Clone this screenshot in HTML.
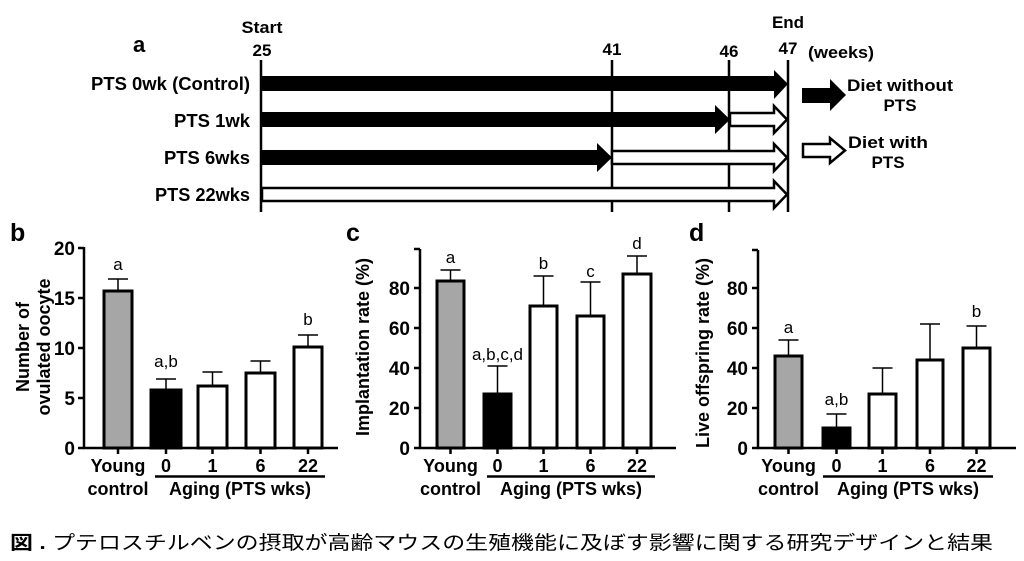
<!DOCTYPE html>
<html><head><meta charset="utf-8"><style>
html,body{margin:0;padding:0;background:#fff;}
svg{display:block;}
text{font-family:"Liberation Sans",Arial,sans-serif;fill:#000;}
.b{font-weight:bold;}
</style></head><body>
<svg width="1024" height="561" viewBox="0 0 1024 561" xmlns="http://www.w3.org/2000/svg">
<!-- Panel a -->
<text x="133" y="52" class="b" font-size="22">a</text>
<text x="262" y="33" class="b" font-size="17" text-anchor="middle" textLength="41" lengthAdjust="spacingAndGlyphs">Start</text>
<text x="262" y="56" class="b" font-size="17" text-anchor="middle">25</text>
<text x="612" y="55" class="b" font-size="17" text-anchor="middle">41</text>
<text x="729" y="57" class="b" font-size="17" text-anchor="middle">46</text>
<text x="788" y="28" class="b" font-size="17" text-anchor="middle">End</text>
<text x="788" y="54" class="b" font-size="17" text-anchor="middle">47</text>
<text x="808" y="58" class="b" font-size="17" textLength="66" lengthAdjust="spacingAndGlyphs">(weeks)</text>
<g class="b" font-size="18" text-anchor="end">
<text x="250" y="90" textLength="159" lengthAdjust="spacingAndGlyphs">PTS 0wk (Control)</text>
<text x="250" y="127" textLength="76" lengthAdjust="spacingAndGlyphs">PTS 1wk</text>
<text x="250" y="164" textLength="86" lengthAdjust="spacingAndGlyphs">PTS 6wks</text>
<text x="250" y="201" textLength="95" lengthAdjust="spacingAndGlyphs">PTS 22wks</text>
</g>
<g stroke="#000" stroke-width="2.5">
<line x1="261" y1="60" x2="261" y2="212"/>
<line x1="612" y1="60" x2="612" y2="212"/>
<line x1="729" y1="60" x2="729" y2="212"/>
<line x1="788" y1="60" x2="788" y2="212"/>
</g>
<polygon points="261,76 774,76 774,70 788,84 774,99 774,91 261,91" fill="#000"/>
<polygon points="261,112 715,112 715,105 730,119.5 715,134 715,127 261,127" fill="#000"/>
<polygon points="261,150 597,150 597,143 612,157.5 597,172 597,165 261,165" fill="#000"/>
<g fill="#fff" stroke="#000" stroke-width="2.5" stroke-linejoin="miter">
<polygon points="730,113 774,113 774,106 787,119.5 774,133 774,126 730,126"/>
<polygon points="612,151 774,151 774,144 787,157.5 774,171 774,164 612,164"/>
<polygon points="262,188 774,188 774,181 787,194.5 774,208 774,201 262,201"/>
</g>
<polygon points="802,88 830,88 830,79 846,95 830,111 830,103 802,103" fill="#000"/>
<polygon points="803,144 830,144 830,138 845,150.5 830,163 830,157 803,157" fill="#fff" stroke="#000" stroke-width="2.5"/>
<g class="b" font-size="17" text-anchor="middle">
<text x="900" y="91" textLength="106" lengthAdjust="spacingAndGlyphs">Diet without</text>
<text x="900" y="111">PTS</text>
<text x="888" y="148" textLength="80" lengthAdjust="spacingAndGlyphs">Diet with</text>
<text x="888" y="168">PTS</text>
</g>

<!-- Panel b -->
<text x="10" y="241" class="b" font-size="25">b</text>
<g stroke="#000" stroke-width="2.5" fill="none">
<line x1="84" y1="247" x2="84" y2="449"/>
<line x1="83" y1="448" x2="338" y2="448"/>
<line x1="78" y1="248" x2="84" y2="248"/>
<line x1="78" y1="298" x2="84" y2="298"/>
<line x1="78" y1="348" x2="84" y2="348"/>
<line x1="78" y1="398" x2="84" y2="398"/>
<line x1="78" y1="448" x2="84" y2="448"/>
<line x1="118" y1="448" x2="118" y2="454"/>
<line x1="166" y1="448" x2="166" y2="454"/>
<line x1="212.5" y1="448" x2="212.5" y2="454"/>
<line x1="260.5" y1="448" x2="260.5" y2="454"/>
<line x1="308" y1="448" x2="308" y2="454"/>
</g>
<g class="b" font-size="19" text-anchor="end">
<text x="75" y="255">20</text><text x="75" y="305">15</text><text x="75" y="355">10</text><text x="75" y="405">5</text><text x="75" y="455">0</text>
</g>
<g stroke="#000" stroke-width="1.5">
<line x1="118" y1="291" x2="118" y2="279"/><line x1="108" y1="279" x2="128" y2="279"/>
<line x1="166" y1="390" x2="166" y2="379"/><line x1="156" y1="379" x2="176" y2="379"/>
<line x1="212.5" y1="386" x2="212.5" y2="372"/><line x1="202.5" y1="372" x2="222.5" y2="372"/>
<line x1="260.5" y1="373" x2="260.5" y2="361"/><line x1="250.5" y1="361" x2="270.5" y2="361"/>
<line x1="308" y1="347" x2="308" y2="335"/><line x1="298" y1="335" x2="318" y2="335"/>
</g>
<g stroke="#000" stroke-width="3">
<rect x="104" y="291" width="28" height="157" fill="#a6a6a6"/>
<rect x="151" y="390" width="30" height="58" fill="#000"/>
<rect x="198" y="386" width="29" height="62" fill="#fff"/>
<rect x="246" y="373" width="29" height="75" fill="#fff"/>
<rect x="294" y="347" width="28" height="101" fill="#fff"/>
</g>
<g font-size="17" text-anchor="middle">
<text x="118" y="270">a</text><text x="166" y="367">a,b</text><text x="308" y="325">b</text>
</g>
<text transform="translate(29,347) rotate(-90)" class="b" font-size="18" text-anchor="middle">Number of</text>
<text transform="translate(50,347) rotate(-90)" class="b" font-size="18" text-anchor="middle">ovulated oocyte</text>
<g class="b" font-size="18" text-anchor="middle">
<text x="118" y="472">Young</text><text x="118" y="495">control</text>
<text x="166" y="472">0</text><text x="212.5" y="472">1</text><text x="260.5" y="472">6</text><text x="308" y="472">22</text>
<text x="240" y="495">Aging (PTS wks)</text>
</g>
<line x1="155" y1="476.5" x2="325" y2="476.5" stroke="#000" stroke-width="2.5"/>

<!-- Panel c -->
<text x="346" y="241" class="b" font-size="25">c</text>
<g stroke="#000" stroke-width="2.5" fill="none">
<line x1="420" y1="249" x2="420" y2="449"/>
<line x1="414" y1="249" x2="420" y2="249"/>
<line x1="419" y1="448" x2="676" y2="448"/>
<line x1="414" y1="288" x2="420" y2="288"/>
<line x1="414" y1="328" x2="420" y2="328"/>
<line x1="414" y1="368" x2="420" y2="368"/>
<line x1="414" y1="408" x2="420" y2="408"/>
<line x1="414" y1="448" x2="420" y2="448"/>
<line x1="450.5" y1="448" x2="450.5" y2="454"/>
<line x1="497.5" y1="448" x2="497.5" y2="454"/>
<line x1="543.5" y1="448" x2="543.5" y2="454"/>
<line x1="590.5" y1="448" x2="590.5" y2="454"/>
<line x1="637" y1="448" x2="637" y2="454"/>
</g>
<g class="b" font-size="19" text-anchor="end">
<text x="410" y="295">80</text><text x="410" y="335">60</text><text x="410" y="375">40</text><text x="410" y="415">20</text><text x="410" y="455">0</text>
</g>
<g stroke="#000" stroke-width="1.5">
<line x1="450.5" y1="281" x2="450.5" y2="270"/><line x1="440.5" y1="270" x2="460.5" y2="270"/>
<line x1="497.5" y1="394" x2="497.5" y2="366"/><line x1="487.5" y1="366" x2="507.5" y2="366"/>
<line x1="543.5" y1="306" x2="543.5" y2="276"/><line x1="533.5" y1="276" x2="553.5" y2="276"/>
<line x1="590.5" y1="316" x2="590.5" y2="282"/><line x1="580.5" y1="282" x2="600.5" y2="282"/>
<line x1="637" y1="274" x2="637" y2="256"/><line x1="627" y1="256" x2="647" y2="256"/>
</g>
<g stroke="#000" stroke-width="3">
<rect x="437" y="281" width="27" height="167" fill="#a6a6a6"/>
<rect x="484" y="394" width="27" height="54" fill="#000"/>
<rect x="530" y="306" width="27" height="142" fill="#fff"/>
<rect x="577" y="316" width="27" height="132" fill="#fff"/>
<rect x="623" y="274" width="28" height="174" fill="#fff"/>
</g>
<g font-size="17" text-anchor="middle">
<text x="450.5" y="263">a</text><text x="497.5" y="360">a,b,c,d</text><text x="543.5" y="269">b</text><text x="590.5" y="277">c</text><text x="637" y="249">d</text>
</g>
<text transform="translate(369,347) rotate(-90)" class="b" font-size="18" text-anchor="middle">Implantation rate (%)</text>
<g class="b" font-size="18" text-anchor="middle">
<text x="450.5" y="472">Young</text><text x="450.5" y="495">control</text>
<text x="497.5" y="472">0</text><text x="543.5" y="472">1</text><text x="590.5" y="472">6</text><text x="637" y="472">22</text>
<text x="571" y="495">Aging (PTS wks)</text>
</g>
<line x1="487" y1="476.5" x2="655" y2="476.5" stroke="#000" stroke-width="2.5"/>

<!-- Panel d -->
<text x="689" y="241" class="b" font-size="25">d</text>
<g stroke="#000" stroke-width="2.5" fill="none">
<line x1="758" y1="250" x2="758" y2="449"/>
<line x1="752" y1="250" x2="758" y2="250"/>
<line x1="757" y1="448" x2="1016" y2="448"/>
<line x1="752" y1="288" x2="758" y2="288"/>
<line x1="752" y1="328" x2="758" y2="328"/>
<line x1="752" y1="368" x2="758" y2="368"/>
<line x1="752" y1="408" x2="758" y2="408"/>
<line x1="752" y1="448" x2="758" y2="448"/>
<line x1="788.5" y1="448" x2="788.5" y2="454"/>
<line x1="836.5" y1="448" x2="836.5" y2="454"/>
<line x1="882.5" y1="448" x2="882.5" y2="454"/>
<line x1="930" y1="448" x2="930" y2="454"/>
<line x1="976.5" y1="448" x2="976.5" y2="454"/>
</g>
<g class="b" font-size="19" text-anchor="end">
<text x="748" y="295">80</text><text x="748" y="335">60</text><text x="748" y="375">40</text><text x="748" y="415">20</text><text x="748" y="455">0</text>
</g>
<g stroke="#000" stroke-width="1.5">
<line x1="788.5" y1="356" x2="788.5" y2="340"/><line x1="778.5" y1="340" x2="798.5" y2="340"/>
<line x1="836.5" y1="428" x2="836.5" y2="414"/><line x1="826.5" y1="414" x2="846.5" y2="414"/>
<line x1="882.5" y1="394" x2="882.5" y2="368"/><line x1="872.5" y1="368" x2="892.5" y2="368"/>
<line x1="930" y1="360" x2="930" y2="324"/><line x1="920" y1="324" x2="940" y2="324"/>
<line x1="976.5" y1="348" x2="976.5" y2="326"/><line x1="966.5" y1="326" x2="986.5" y2="326"/>
</g>
<g stroke="#000" stroke-width="3">
<rect x="775" y="356" width="27" height="92" fill="#a6a6a6"/>
<rect x="823" y="428" width="27" height="20" fill="#000"/>
<rect x="869" y="394" width="27" height="54" fill="#fff"/>
<rect x="917" y="360" width="26" height="88" fill="#fff"/>
<rect x="963" y="348" width="27" height="100" fill="#fff"/>
</g>
<g font-size="17" text-anchor="middle">
<text x="788.5" y="333">a</text><text x="836.5" y="405">a,b</text><text x="976.5" y="317">b</text>
</g>
<text transform="translate(709,353) rotate(-90)" class="b" font-size="18" text-anchor="middle">Live offspring rate (%)</text>
<g class="b" font-size="18" text-anchor="middle">
<text x="788.5" y="472">Young</text><text x="788.5" y="495">control</text>
<text x="836.5" y="472">0</text><text x="882.5" y="472">1</text><text x="930" y="472">6</text><text x="976.5" y="472">22</text>
<text x="908" y="495">Aging (PTS wks)</text>
</g>
<line x1="823" y1="476.5" x2="993" y2="476.5" stroke="#000" stroke-width="2.5"/>

<!-- caption -->
<text x="10" y="549" font-size="19" style="font-family:'Liberation Sans','Noto Sans CJK JP',sans-serif" textLength="983" lengthAdjust="spacingAndGlyphs"><tspan font-weight="bold">図 .</tspan> プテロスチルベンの摂取が高齢マウスの生殖機能に及ぼす影響に関する研究デザインと結果</text>
</svg>
</body></html>
